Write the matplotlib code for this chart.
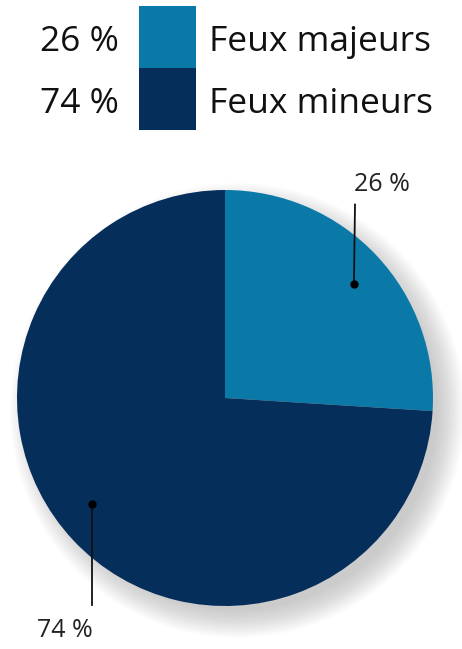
import matplotlib.pyplot as plt
from matplotlib.patches import Circle, Rectangle

labels = ['Feux majeurs', 'Feux mineurs']
shares = [26, 74]
colors = ['#0b79a8', '#062e5b']
pct_text = [f'{v} %' for v in shares]

W, H = 462, 649
fig = plt.figure(figsize=(W / 100, H / 100), dpi=100)
plt.rcParams['font.family'] = ['Open Sans', 'DejaVu Sans']

# pie axes, square in pixels
cx, cy, r = 225, H - 398, 208
ax = fig.add_axes([(cx - r) / W, (cy - r) / H, 2 * r / W, 2 * r / H])

# soft drop shadow
for i in range(20):
    rad = 0.96 + 0.007 * i
    ax.add_patch(Circle((0.06, -0.06), rad, color='#888888', alpha=0.025,
                        lw=0, clip_on=False, zorder=0))

wedges, _ = ax.pie(shares, colors=colors, startangle=90, counterclock=False,
                   radius=1, wedgeprops=dict(linewidth=0))
for w in wedges:
    w.set_zorder(2)
ax.set_xlim(-1, 1)
ax.set_ylim(-1, 1)
ax.axis('off')

# call-out labels
ax.plot([0.62, 0.625], [0.55, 0.93], color='#111111', lw=1.3, zorder=3, clip_on=False)
ax.plot([0.62], [0.55], 'o', color='black', ms=5, zorder=4)
ax.text(0.755, 1.025, pct_text[0], ha='center', va='center', fontsize=18,
        color='#222222', zorder=4, clip_on=False)

ax.plot([-0.64, -0.64], [-0.51, -0.995], color='#111111', lw=1.3, zorder=3, clip_on=False)
ax.plot([-0.64], [-0.51], 'o', color='black', ms=5, zorder=4)
ax.text(-0.77, -1.12, pct_text[1], ha='center', va='center', fontsize=18,
        color='#222222', zorder=4, clip_on=False)

# legend block at top
lax = fig.add_axes([0, 0, 1, 1])
lax.set_xlim(0, W)
lax.set_ylim(H, 0)
lax.axis('off')
row_y = [6, 68]
for i, (lab, col, pt) in enumerate(zip(labels, colors, pct_text)):
    lax.add_patch(Rectangle((139, row_y[i]), 57, 62, color=col, lw=0))
    lax.text(119, row_y[i] + 36, pt, ha='right', va='center', fontsize=25.5, color='#111111')
    lax.text(209, row_y[i] + 36, lab, ha='left', va='center', fontsize=25.5, color='#111111')

fig.savefig('out.png', dpi=100)
